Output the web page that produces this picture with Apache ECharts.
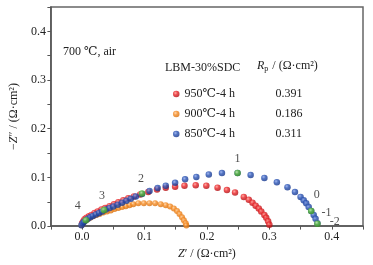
<!DOCTYPE html>
<html><head><meta charset="utf-8">
<script src="https://cdn.jsdelivr.net/npm/echarts@6/dist/echarts.min.js"></script>
<style>html,body{margin:0;padding:0;background:#fff}#c{width:373px;height:265px}</style>
</head><body><div id="c"></div>
<script>
// ---- data ----
const seriesNames = ['950℃-4 h', '900℃-4 h', '850℃-4 h'];
const rpValues = ['0.391', '0.186', '0.311'];
const xTickLabels = ['0.0', '0.1', '0.2', '0.3', '0.4'];
const yTickLabels = ['0.0', '0.1', '0.2', '0.3', '0.4'];

const redX = [0.000,0.002,0.004,0.007,0.011,0.015,0.020,0.025,0.031,0.037,0.044,0.051,0.058,0.066,0.074,0.083,0.093,0.106,0.120,0.134,0.149,0.164,0.182,0.199,0.217,0.232,0.245,0.259,0.267,0.273,0.278,0.283,0.287,0.292,0.295,0.298,0.300];
const redY = [0.006,0.010,0.014,0.017,0.020,0.023,0.027,0.030,0.034,0.037,0.041,0.045,0.049,0.053,0.057,0.061,0.065,0.070,0.075,0.079,0.081,0.083,0.084,0.083,0.079,0.074,0.069,0.060,0.054,0.048,0.042,0.036,0.030,0.023,0.017,0.010,0.003];

const orangeX = [-0.001,0.002,0.005,0.009,0.013,0.018,0.023,0.028,0.034,0.040,0.046,0.052,0.058,0.064,0.070,0.076,0.082,0.090,0.099,0.108,0.117,0.126,0.134,0.141,0.147,0.152,0.156,0.160,0.163,0.166,0.167];
const orangeY = [0.002,0.007,0.011,0.014,0.017,0.020,0.023,0.025,0.028,0.030,0.032,0.035,0.037,0.039,0.041,0.043,0.045,0.047,0.047,0.047,0.047,0.045,0.043,0.040,0.036,0.031,0.025,0.018,0.012,0.006,0.001];

const blueX = [-0.001,0.001,0.003,0.006,0.009,0.013,0.017,0.022,0.027,0.032,0.038,0.044,0.050,0.057,0.064,0.071,0.078,0.086,0.096,0.108,0.121,0.134,0.149,0.165,0.183,0.203,0.224,0.249,0.270,0.292,0.312,0.329,0.341,0.350,0.355,0.359,0.363,0.367,0.371,0.374,0.377];
const blueY = [0.002,0.006,0.009,0.012,0.015,0.018,0.021,0.024,0.027,0.030,0.034,0.037,0.040,0.044,0.048,0.052,0.056,0.061,0.066,0.072,0.078,0.083,0.089,0.096,0.101,0.106,0.109,0.109,0.105,0.099,0.090,0.080,0.070,0.060,0.053,0.047,0.039,0.031,0.023,0.015,0.006];

const freqX = [0.006,0.035,0.096,0.249,0.355,0.367,0.377];
const freqY = [0.012,0.033,0.067,0.109,0.053,0.031,0.005];
const freqLabels = ['4','3','2','1','0','-1','-2'];

// ---- styles ----
const FONT = '"Liberation Serif", "DejaVu Serif", serif';
function ball(dark, mid, light) {
  return new echarts.graphic.RadialGradient(0.38, 0.35, 0.65, [
    {offset: 0, color: light}, {offset: 0.45, color: mid}, {offset: 1, color: dark}
  ]);
}
const colors = [ball('#b00c10', '#ea2226', '#ff9a90'), ball('#d8700c', '#f58a22', '#ffcf9a'), ball('#15368c', '#2852b4', '#8aa4ea')];
const greenColor = ball('#3f9a22', '#62c03c', '#c0f0a0');

const freqLabelStyle = {
  '4': {position: 'top', offset: [-8, -1]},
  '3': {position: 'top', offset: [-2, -1]},
  '2': {position: 'top', offset: [-1, -1]},
  '1': {position: 'top', offset: [0, -1]},
  '0': {position: 'right', offset: [6, -5]},
  '-1': {position: 'right', offset: [3, 2]},
  '-2': {position: 'right', offset: [5, -2]}
};

function zip(xs, ys) { return xs.map((x, i) => [x, ys[i]]); }

const fmtTick = (labels) => (v) => {
  const k = Math.round(v * 20);
  if (k < 0 || k % 2 !== 0) return '';
  return labels[k / 2] || '';
};

const richTitle = {
  i: {fontFamily: FONT, fontStyle: 'italic', fontSize: 12, color: '#222'},
  t: {fontFamily: FONT, fontSize: 12, color: '#222'}
};

const chart = echarts.init(document.getElementById('c'), null, {renderer: 'canvas'});
const option = {
  animation: false,
  backgroundColor: '#fff',
  grid: {left: 44, right: 10, top: 7, bottom: 33, show: true, borderColor: '#666', borderWidth: 1.5, backgroundColor: 'transparent'},
  xAxis: {
    type: 'value', min: -0.05, max: 0.45, interval: 0.05,
    axisLine: {show: true, onZero: false, lineStyle: {color: '#555', width: 1.5}},
    axisTick: {show: true, inside: false, length: 3.5, lineStyle: {color: '#555', width: 1}},
    axisLabel: {formatter: fmtTick(xTickLabels), fontFamily: FONT, fontSize: 12, color: '#222', margin: 5, showMinLabel: true, showMaxLabel: true},
    splitLine: {show: false},
    name: '{i|Z}{t|′ / (Ω·cm²)}', nameLocation: 'middle', nameGap: 19,
    nameTextStyle: {rich: richTitle}
  },
  yAxis: {
    type: 'value', min: 0, max: 0.45, interval: 0.05,
    axisLine: {show: true, onZero: false, lineStyle: {color: '#555', width: 1.5}},
    axisTick: {show: true, inside: false, length: 3.5, lineStyle: {color: '#555', width: 1}},
    axisLabel: {formatter: fmtTick(yTickLabels), fontFamily: FONT, fontSize: 12, color: '#222', margin: 5},
    splitLine: {show: false},
    name: '{t|−}{i|Z}{t|″ / (Ω·cm²)}', nameLocation: 'middle', nameGap: 27, nameRotate: 90,
    nameTextStyle: {rich: richTitle}
  },
  legend: {
    orient: 'vertical', left: 168, top: 82, itemWidth: 6.5, itemHeight: 6.5, itemGap: 6,
    icon: 'circle', selectedMode: false,
    data: seriesNames,
    formatter: (name) => '{n|' + name + '}{v|' + rpValues[seriesNames.indexOf(name)] + '}',
    textStyle: {
      fontFamily: FONT, fontSize: 12, color: '#222', lineHeight: 14,
      rich: {n: {width: 91, fontFamily: FONT, fontSize: 12, color: '#222'}, v: {fontFamily: FONT, fontSize: 12, color: '#222'}}
    }
  },
  graphic: [
    {type: 'text', left: 63, top: 46, style: {text: '700 ℃, air', font: '12px ' + FONT, fill: '#222'}},
    {type: 'text', left: 165, top: 62, style: {text: 'LBM-30%SDC', font: '12px ' + FONT, fill: '#222'}},
    {type: 'text', left: 257, top: 60, style: {
      text: '{i|R}{s|p}{t| / (Ω·cm²)}',
      rich: {
        i: {fontFamily: FONT, fontStyle: 'italic', fontSize: 12, fill: '#222'},
        s: {fontFamily: FONT, fontSize: 8, fill: '#222', padding: [6, 1, 0, 0]},
        t: {fontFamily: FONT, fontSize: 12, fill: '#222'}
      }
    }}
  ],
  series: [
    {name: seriesNames[0], type: 'scatter', data: zip(redX, redY), symbolSize: 6.5, itemStyle: {color: colors[0]}, z: 2},
    {name: seriesNames[1], type: 'scatter', data: zip(orangeX, orangeY), symbolSize: 6, itemStyle: {color: colors[1]}, z: 3},
    {name: seriesNames[2], type: 'scatter', data: zip(blueX, blueY), symbolSize: 6.5, itemStyle: {color: colors[2]}, z: 4},
    {name: 'freq', type: 'scatter', z: 5, itemStyle: {color: greenColor},
     data: freqX.map((x, i) => ({
       value: [x, freqY[i]],
       symbolSize: freqLabels[i] === '0' ? 0 : 6.5,
       label: Object.assign({show: true, formatter: freqLabels[i], fontFamily: FONT, fontSize: 12, color: '#222', distance: 4}, freqLabelStyle[freqLabels[i]])
     }))}
  ]
};
chart.setOption(option);
</script>
</body></html>
